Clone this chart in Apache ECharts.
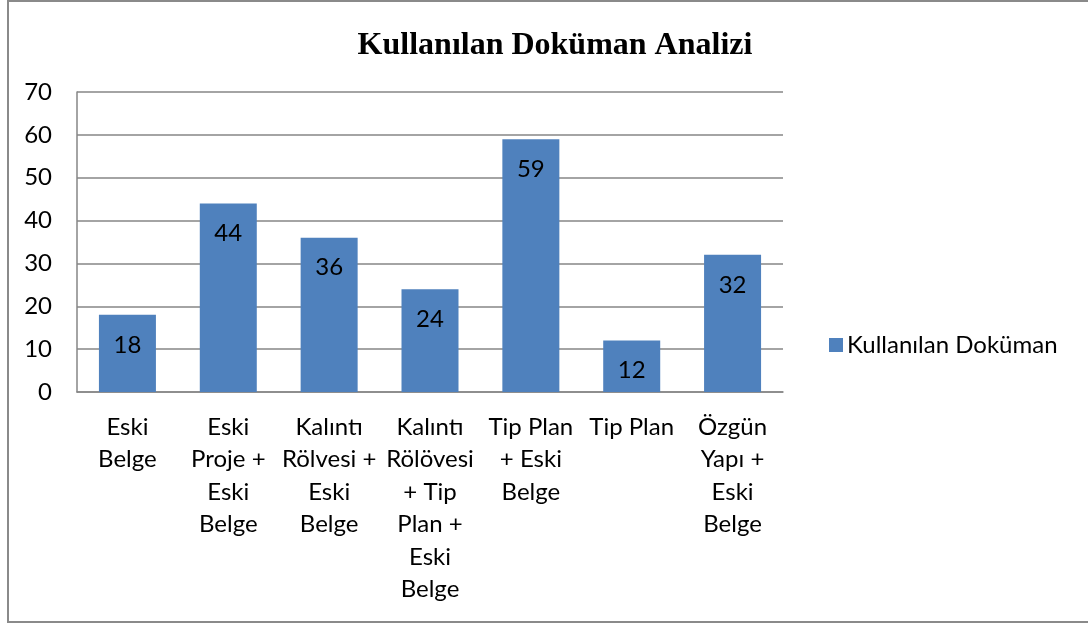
<!DOCTYPE html>
<html>
<head>
<meta charset="utf-8">
<script src="https://cdn.jsdelivr.net/npm/echarts@6/dist/echarts.min.js"></script>
<style>html,body{margin:0;padding:0;background:#fff;}#c{width:1088px;height:626px;}</style>
</head>
<body>
<div id="c"></div>
<script>
const titleText = 'Kullanılan Doküman Analizi';
const seriesName = 'Kullanılan Doküman';
const categories = [
  'Eski\nBelge',
  'Eski\nProje +\nEski\nBelge',
  'Kalıntı\nRölvesi +\nEski\nBelge',
  'Kalıntı\nRölövesi\n+ Tip\nPlan +\nEski\nBelge',
  'Tip Plan\n+ Eski\nBelge',
  'Tip Plan',
  'Özgün\nYapı +\nEski\nBelge'
];
const values = [18, 44, 36, 24, 59, 12, 32];
const yMin = 0, yMax = 70, yStep = 10;

const font = 'Lato, "Noto Sans", sans-serif';
const chart = echarts.init(document.getElementById('c'));
chart.setOption({
  animation: false,
  backgroundColor: '#fff',
  title: {
    text: titleText,
    left: 550, top: 25, textAlign: 'center',
    textStyle: { fontFamily: '"Liberation Serif", serif', fontWeight: 'bold', fontSize: 32, color: '#000' }
  },
  legend: {
    data: [seriesName],
    left: 824, top: 328,
    icon: 'rect', itemWidth: 14, itemHeight: 14, itemGap: 8,
    textStyle: { fontFamily: font, fontSize: 24, color: '#000', padding: [0,0,0,-1] }
  },
  grid: { left: 77, top: 92, right: 305, bottom: 234, containLabel: false },
  xAxis: {
    type: 'category', data: categories,
    axisLine: { lineStyle: { color: '#868686', width: 1.5 } },
    axisTick: { show: false },
    axisLabel: { interval: 0, color: '#000', fontFamily: font, fontSize: 24, lineHeight: 32.5, margin: 19 }
  },
  yAxis: {
    type: 'value', min: yMin, max: yMax, interval: yStep,
    axisLine: { show: true, lineStyle: { color: '#868686', width: 1.5 } },
    axisTick: { show: false },
    splitLine: { lineStyle: { color: '#868686', width: 1.5 } },
    axisLabel: { color: '#000', fontFamily: font, fontSize: 24, margin: 25 }
  },
  series: [{
    name: seriesName, type: 'bar', data: values,
    barWidth: 57,
    itemStyle: { color: '#4F81BD' },
    label: { show: true, position: 'insideTop', distance: 18, color: '#000', fontFamily: font, fontSize: 24 }
  }],
  graphic: [{
    type: 'rect', silent: true,
    shape: { x: 8, y: 1, width: 1100, height: 621 },
    style: { fill: 'none', stroke: '#8a8a8a', lineWidth: 2 }
  }]
});
</script>
</body>
</html>
